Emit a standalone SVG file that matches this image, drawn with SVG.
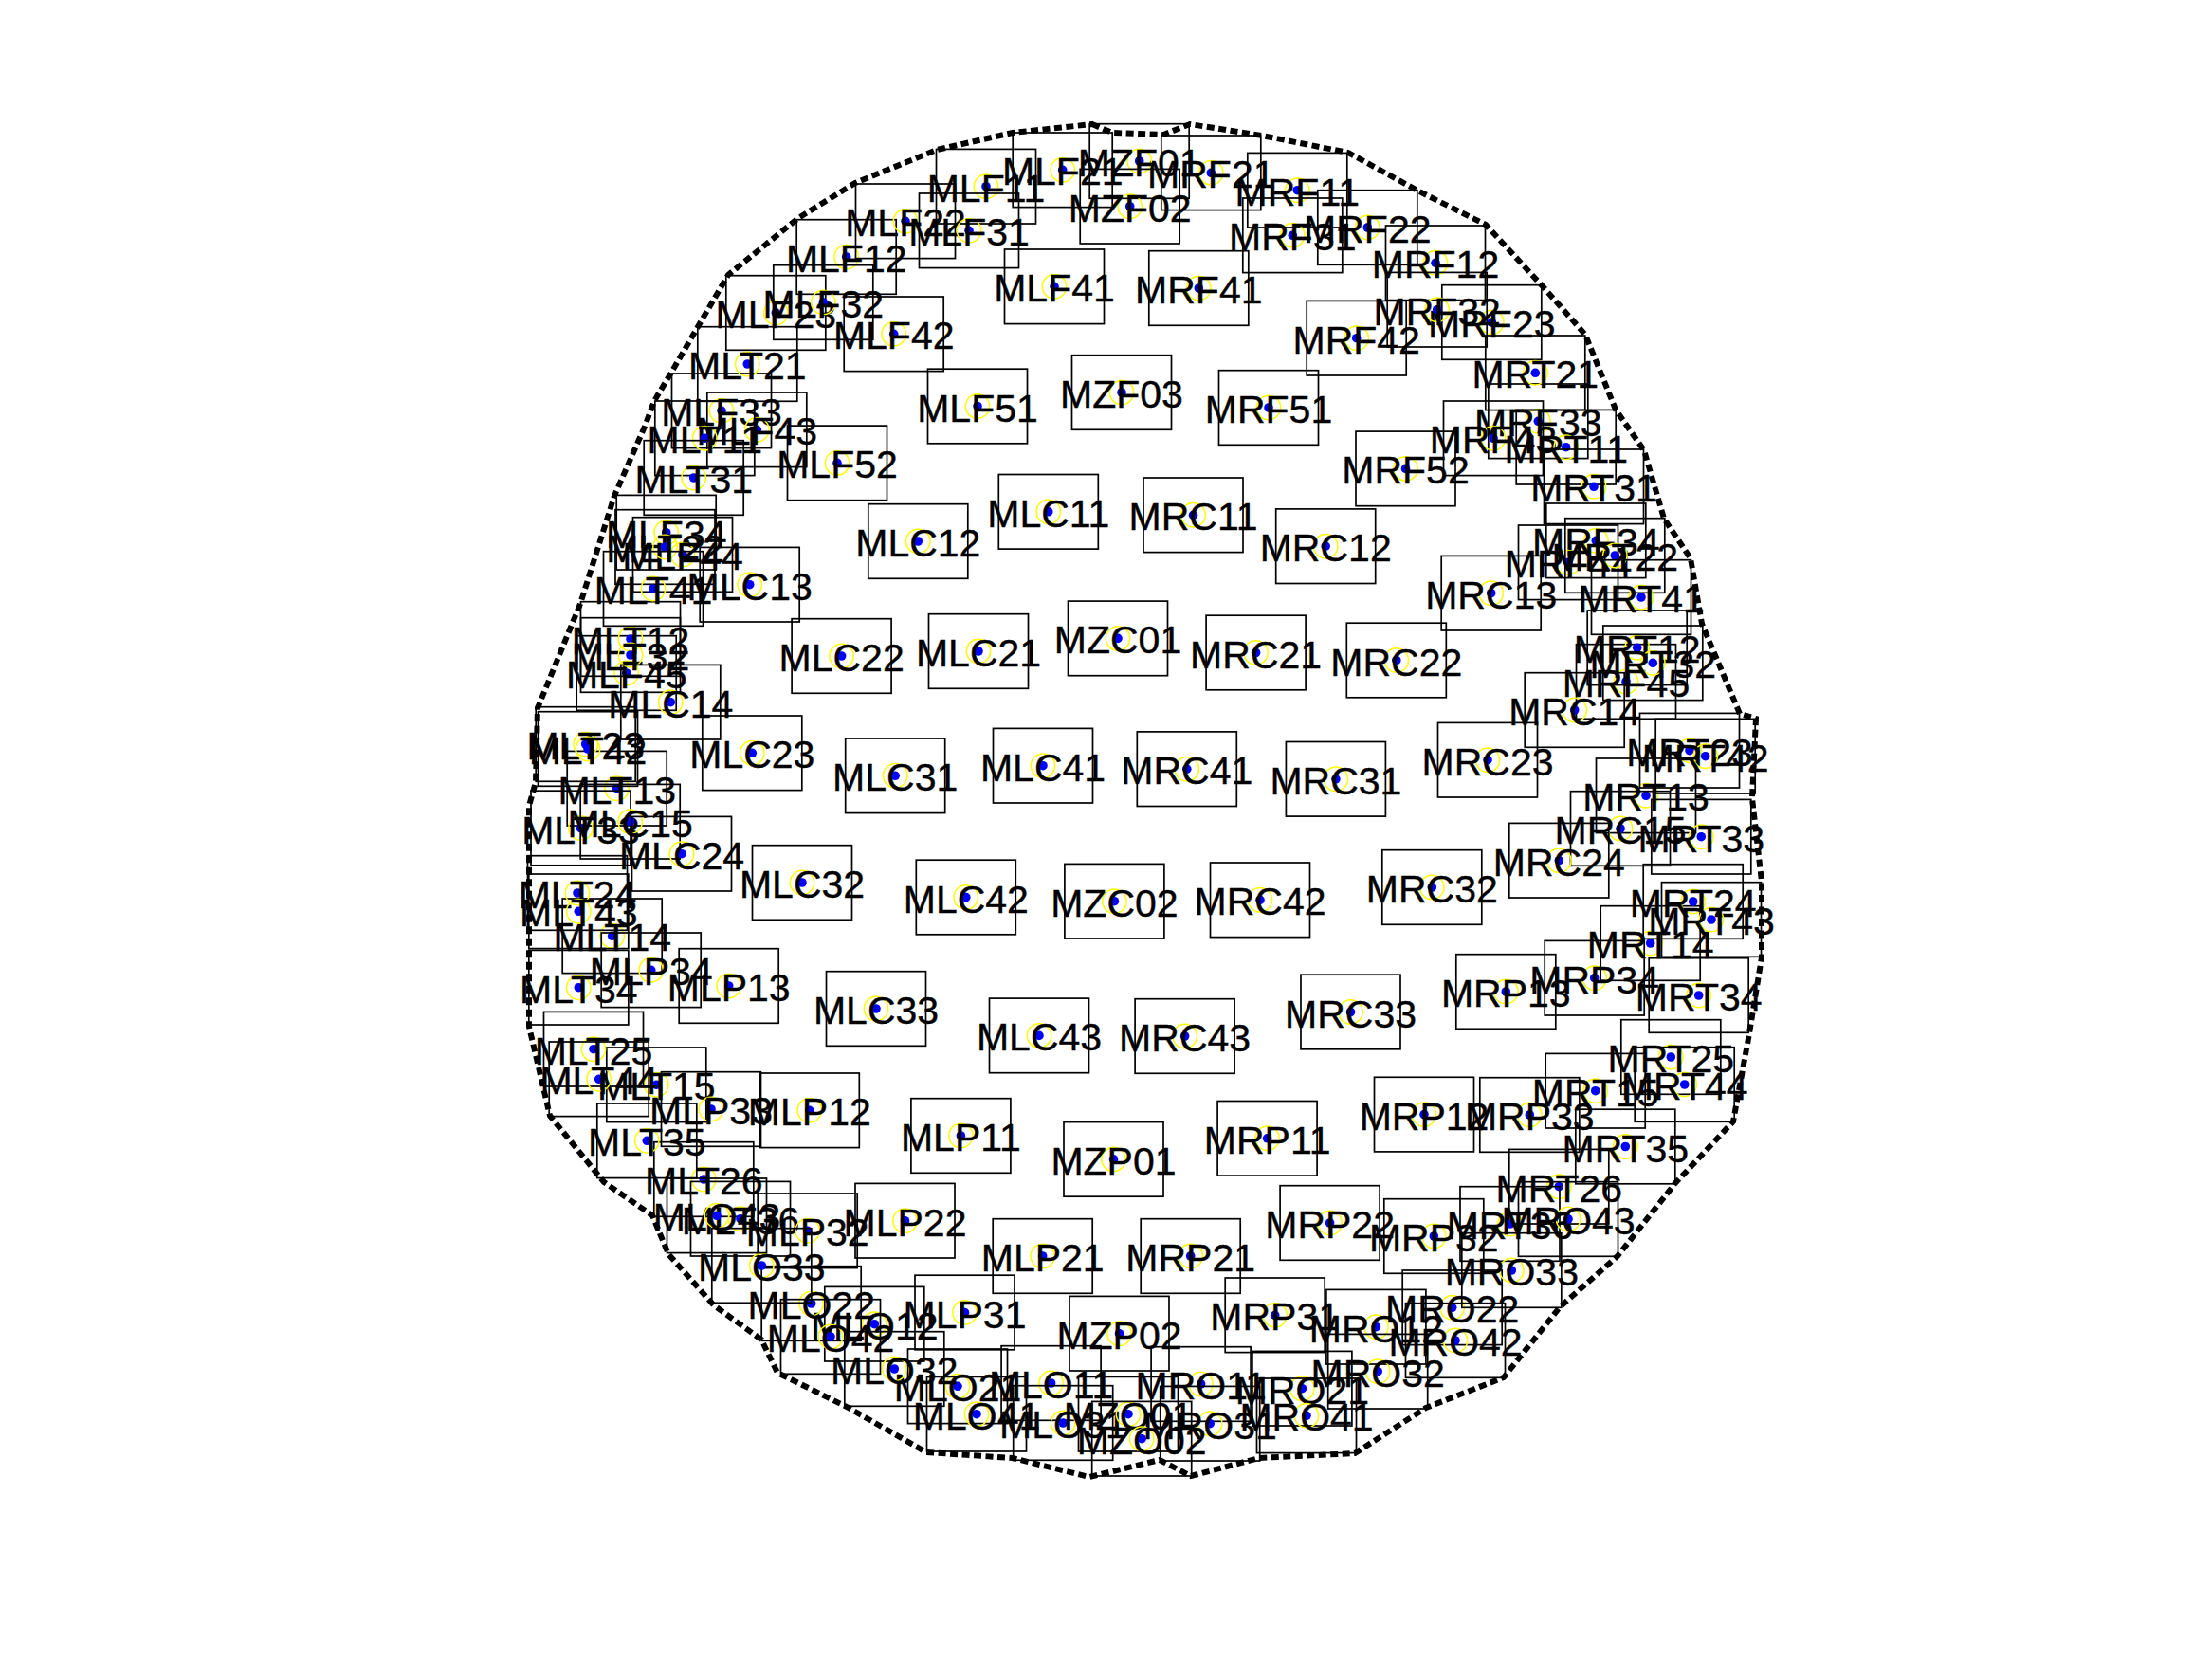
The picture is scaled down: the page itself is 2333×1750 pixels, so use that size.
<svg xmlns="http://www.w3.org/2000/svg" width="2333" height="1750" viewBox="0 0 2333 1750">
<style>
rect.bg{fill:#fff}
#outline polygon{fill:none;stroke:#000;stroke-width:6;stroke-dasharray:8 4.5}
.b{fill:none;stroke:#000;stroke-width:1.7}
.y{fill:none;stroke:#ff0;stroke-width:1.5}
.d{fill:#00f}
text{font-family:"Liberation Sans",Arial,sans-serif;font-size:41px;text-anchor:middle;fill:#000;stroke:#000;stroke-width:.4}
</style>
<defs>
<g id="s"><rect class="b" x="-52.5" y="-39.3" width="105" height="78.6"/><circle class="y" r="12.7"/><circle class="d" r="4.8"/></g>
</defs>
<rect class="bg" width="2333" height="1750"/>
<g id="outline"><polygon points="1152,131 1173,140 1227,142 1255,131 1331,143 1422,161 1497,202 1567,237 1627,302 1672,353 1704,432 1734,475 1755,547 1783,589 1795,658 1835,753 1852,758 1848,842 1858,930 1858,1010 1845,1090 1828,1183 1767,1248 1706,1325 1645,1379 1586,1453 1504,1485 1429,1533 1328,1538 1256,1557 1223,1540 1149,1558 1068,1538 977,1532 895,1485 820,1448 803,1413 753,1377 705,1323 688,1282 637,1247 580,1177 558,1083 558,850 565,825 567,747 612,637 648,523 680,450 690,423 708,393 737,343 768,290 842,230 902,193 988,158 1068,140"/></g>
<g id="MLF11" transform="translate(1040 196.7)"><use href="#s"/><text y="16">MLF11</text></g>
<g id="MLF12" transform="translate(892.7 271)"><use href="#s"/><text y="16">MLF12</text></g>
<g id="MLF21" transform="translate(1120.7 179.3)"><use href="#s"/><text y="16">MLF21</text></g>
<g id="MLF22" transform="translate(955 233.3)"><use href="#s"/><text y="16">MLF22</text></g>
<g id="MLF23" transform="translate(818.3 330)"><use href="#s"/><text y="16">MLF23</text></g>
<g id="MLF31" transform="translate(1022 243.3)"><use href="#s"/><text y="16">MLF31</text></g>
<g id="MLF32" transform="translate(868.3 319)"><use href="#s"/><text y="16">MLF32</text></g>
<g id="MLF33" transform="translate(761 433.3)"><use href="#s"/><text y="16">MLF33</text></g>
<g id="MLF34" transform="translate(702.7 561.7)"><use href="#s"/><text y="16">MLF34</text></g>
<g id="MLF41" transform="translate(1112 302.3)"><use href="#s"/><text y="16">MLF41</text></g>
<g id="MLF42" transform="translate(942.7 352.3)"><use href="#s"/><text y="16">MLF42</text></g>
<g id="MLF43" transform="translate(798.3 453.3)"><use href="#s"/><text y="16">MLF43</text></g>
<g id="MLF44" transform="translate(720 585)"><use href="#s"/><text y="16">MLF44</text></g>
<g id="MLF45" transform="translate(660.7 710)"><use href="#s"/><text y="16">MLF45</text></g>
<g id="MLF51" transform="translate(1031 428.5)"><use href="#s"/><text y="16">MLF51</text></g>
<g id="MLF52" transform="translate(883 488.4)"><use href="#s"/><text y="16">MLF52</text></g>
<g id="MLT11" transform="translate(743.3 462.3)"><use href="#s"/><text y="16">MLT11</text></g>
<g id="MLT12" transform="translate(665 674)"><use href="#s"/><text y="16">MLT12</text></g>
<g id="MLT13" transform="translate(650.7 831.7)"><use href="#s"/><text y="16">MLT13</text></g>
<g id="MLT14" transform="translate(645.7 987.3)"><use href="#s"/><text y="16">MLT14</text></g>
<g id="MLT15" transform="translate(692.3 1144.3)"><use href="#s"/><text y="16">MLT15</text></g>
<g id="MLT21" transform="translate(788.3 384)"><use href="#s"/><text y="16">MLT21</text></g>
<g id="MLT22" transform="translate(701.5 577)"><use href="#s"/><text y="16">MLT22</text></g>
<g id="MLT23" transform="translate(617.7 785)"><use href="#s"/><text y="16">MLT23</text></g>
<g id="MLT24" transform="translate(609 942)"><use href="#s"/><text y="16">MLT24</text></g>
<g id="MLT25" transform="translate(626 1106.7)"><use href="#s"/><text y="16">MLT25</text></g>
<g id="MLT26" transform="translate(742.3 1244)"><use href="#s"/><text y="16">MLT26</text></g>
<g id="MLT31" transform="translate(731.7 504)"><use href="#s"/><text y="16">MLT31</text></g>
<g id="MLT32" transform="translate(665 691)"><use href="#s"/><text y="16">MLT32</text></g>
<g id="MLT33" transform="translate(612.5 873.5)"><use href="#s"/><text y="16">MLT33</text></g>
<g id="MLT34" transform="translate(610.3 1041.7)"><use href="#s"/><text y="16">MLT34</text></g>
<g id="MLT35" transform="translate(682.3 1203.3)"><use href="#s"/><text y="16">MLT35</text></g>
<g id="MLT36" transform="translate(781 1285.7)"><use href="#s"/><text y="16">MLT36</text></g>
<g id="MLT41" transform="translate(689 621)"><use href="#s"/><text y="16">MLT41</text></g>
<g id="MLT42" transform="translate(620 790)"><use href="#s"/><text y="16">MLT42</text></g>
<g id="MLT43" transform="translate(610.3 961.3)"><use href="#s"/><text y="16">MLT43</text></g>
<g id="MLT44" transform="translate(631.7 1138.3)"><use href="#s"/><text y="16">MLT44</text></g>
<g id="MLC11" transform="translate(1105.8 539.8)"><use href="#s"/><text y="16">MLC11</text></g>
<g id="MLC12" transform="translate(968.3 571)"><use href="#s"/><text y="16">MLC12</text></g>
<g id="MLC13" transform="translate(790.7 616.7)"><use href="#s"/><text y="16">MLC13</text></g>
<g id="MLC14" transform="translate(707.3 740.7)"><use href="#s"/><text y="16">MLC14</text></g>
<g id="MLC15" transform="translate(664.7 866.7)"><use href="#s"/><text y="16">MLC15</text></g>
<g id="MLC21" transform="translate(1032 687)"><use href="#s"/><text y="16">MLC21</text></g>
<g id="MLC22" transform="translate(887.6 692)"><use href="#s"/><text y="16">MLC22</text></g>
<g id="MLC23" transform="translate(793.3 794.3)"><use href="#s"/><text y="16">MLC23</text></g>
<g id="MLC24" transform="translate(719 900.7)"><use href="#s"/><text y="16">MLC24</text></g>
<g id="MLC31" transform="translate(944.2 818.3)"><use href="#s"/><text y="16">MLC31</text></g>
<g id="MLC32" transform="translate(846 931)"><use href="#s"/><text y="16">MLC32</text></g>
<g id="MLC33" transform="translate(924 1064)"><use href="#s"/><text y="16">MLC33</text></g>
<g id="MLC41" transform="translate(1100 807.7)"><use href="#s"/><text y="16">MLC41</text></g>
<g id="MLC42" transform="translate(1018.8 946.5)"><use href="#s"/><text y="16">MLC42</text></g>
<g id="MLC43" transform="translate(1096 1092.4)"><use href="#s"/><text y="16">MLC43</text></g>
<g id="MLP11" transform="translate(1013.4 1198)"><use href="#s"/><text y="16">MLP11</text></g>
<g id="MLP12" transform="translate(853.8 1171.3)"><use href="#s"/><text y="16">MLP12</text></g>
<g id="MLP13" transform="translate(768.7 1040)"><use href="#s"/><text y="16">MLP13</text></g>
<g id="MLP21" transform="translate(1099.7 1325)"><use href="#s"/><text y="16">MLP21</text></g>
<g id="MLP22" transform="translate(954.5 1287.7)"><use href="#s"/><text y="16">MLP22</text></g>
<g id="MLP31" transform="translate(1017.5 1384.5)"><use href="#s"/><text y="16">MLP31</text></g>
<g id="MLP32" transform="translate(851.7 1298.3)"><use href="#s"/><text y="16">MLP32</text></g>
<g id="MLP33" transform="translate(750 1170)"><use href="#s"/><text y="16">MLP33</text></g>
<g id="MLP34" transform="translate(686.7 1023.3)"><use href="#s"/><text y="16">MLP34</text></g>
<g id="MLO11" transform="translate(1108.6 1459)"><use href="#s"/><text y="16">MLO11</text></g>
<g id="MLO12" transform="translate(922.3 1396.7)"><use href="#s"/><text y="16">MLO12</text></g>
<g id="MLO21" transform="translate(1010 1462.3)"><use href="#s"/><text y="16">MLO21</text></g>
<g id="MLO22" transform="translate(855.7 1375)"><use href="#s"/><text y="16">MLO22</text></g>
<g id="MLO31" transform="translate(1121.2 1501)"><use href="#s"/><text y="16">MLO31</text></g>
<g id="MLO32" transform="translate(943.3 1444)"><use href="#s"/><text y="16">MLO32</text></g>
<g id="MLO33" transform="translate(803.3 1335)"><use href="#s"/><text y="16">MLO33</text></g>
<g id="MLO41" transform="translate(1030 1491.7)"><use href="#s"/><text y="16">MLO41</text></g>
<g id="MLO42" transform="translate(876 1410)"><use href="#s"/><text y="16">MLO42</text></g>
<g id="MLO43" transform="translate(756 1282.3)"><use href="#s"/><text y="16">MLO43</text></g>
<g id="MRF11" transform="translate(1368.3 200.7)"><use href="#s"/><text y="16">MRF11</text></g>
<g id="MRF12" transform="translate(1514 277.3)"><use href="#s"/><text y="16">MRF12</text></g>
<g id="MRF21" transform="translate(1277.3 182.3)"><use href="#s"/><text y="16">MRF21</text></g>
<g id="MRF22" transform="translate(1442.3 240)"><use href="#s"/><text y="16">MRF22</text></g>
<g id="MRF23" transform="translate(1573.3 340)"><use href="#s"/><text y="16">MRF23</text></g>
<g id="MRF31" transform="translate(1363.3 248.3)"><use href="#s"/><text y="16">MRF31</text></g>
<g id="MRF32" transform="translate(1515.7 326.7)"><use href="#s"/><text y="16">MRF32</text></g>
<g id="MRF33" transform="translate(1622.3 444.3)"><use href="#s"/><text y="16">MRF33</text></g>
<g id="MRF34" transform="translate(1683.3 570.3)"><use href="#s"/><text y="16">MRF34</text></g>
<g id="MRF41" transform="translate(1264.3 304)"><use href="#s"/><text y="16">MRF41</text></g>
<g id="MRF42" transform="translate(1430.7 356.7)"><use href="#s"/><text y="16">MRF42</text></g>
<g id="MRF43" transform="translate(1575 462.3)"><use href="#s"/><text y="16">MRF43</text></g>
<g id="MRF44" transform="translate(1654 593.3)"><use href="#s"/><text y="16">MRF44</text></g>
<g id="MRF45" transform="translate(1715 719)"><use href="#s"/><text y="16">MRF45</text></g>
<g id="MRF51" transform="translate(1338 430)"><use href="#s"/><text y="16">MRF51</text></g>
<g id="MRF52" transform="translate(1482.5 494.4)"><use href="#s"/><text y="16">MRF52</text></g>
<g id="MRT11" transform="translate(1651.7 471.7)"><use href="#s"/><text y="16">MRT11</text></g>
<g id="MRT12" transform="translate(1726.7 683.3)"><use href="#s"/><text y="16">MRT12</text></g>
<g id="MRT13" transform="translate(1736 839.3)"><use href="#s"/><text y="16">MRT13</text></g>
<g id="MRT14" transform="translate(1740.7 995)"><use href="#s"/><text y="16">MRT14</text></g>
<g id="MRT15" transform="translate(1682.7 1150.7)"><use href="#s"/><text y="16">MRT15</text></g>
<g id="MRT21" transform="translate(1619.3 393.3)"><use href="#s"/><text y="16">MRT21</text></g>
<g id="MRT22" transform="translate(1703.3 586)"><use href="#s"/><text y="16">MRT22</text></g>
<g id="MRT23" transform="translate(1782 791.7)"><use href="#s"/><text y="16">MRT23</text></g>
<g id="MRT24" transform="translate(1785.7 951)"><use href="#s"/><text y="16">MRT24</text></g>
<g id="MRT25" transform="translate(1762.3 1115)"><use href="#s"/><text y="16">MRT25</text></g>
<g id="MRT26" transform="translate(1644.3 1251.7)"><use href="#s"/><text y="16">MRT26</text></g>
<g id="MRT31" transform="translate(1681 513.3)"><use href="#s"/><text y="16">MRT31</text></g>
<g id="MRT32" transform="translate(1743.3 699.3)"><use href="#s"/><text y="16">MRT32</text></g>
<g id="MRT33" transform="translate(1794.3 882.7)"><use href="#s"/><text y="16">MRT33</text></g>
<g id="MRT34" transform="translate(1791.7 1050)"><use href="#s"/><text y="16">MRT34</text></g>
<g id="MRT35" transform="translate(1714.3 1209.5)"><use href="#s"/><text y="16">MRT35</text></g>
<g id="MRT36" transform="translate(1592.5 1291)"><use href="#s"/><text y="16">MRT36</text></g>
<g id="MRT41" transform="translate(1731 630)"><use href="#s"/><text y="16">MRT41</text></g>
<g id="MRT42" transform="translate(1798.7 797.7)"><use href="#s"/><text y="16">MRT42</text></g>
<g id="MRT43" transform="translate(1805 970)"><use href="#s"/><text y="16">MRT43</text></g>
<g id="MRT44" transform="translate(1776.7 1144)"><use href="#s"/><text y="16">MRT44</text></g>
<g id="MRC11" transform="translate(1258.5 543.3)"><use href="#s"/><text y="16">MRC11</text></g>
<g id="MRC12" transform="translate(1398.2 576.2)"><use href="#s"/><text y="16">MRC12</text></g>
<g id="MRC13" transform="translate(1572.7 625.7)"><use href="#s"/><text y="16">MRC13</text></g>
<g id="MRC14" transform="translate(1660.7 749)"><use href="#s"/><text y="16">MRC14</text></g>
<g id="MRC15" transform="translate(1709 874)"><use href="#s"/><text y="16">MRC15</text></g>
<g id="MRC21" transform="translate(1324.6 688.5)"><use href="#s"/><text y="16">MRC21</text></g>
<g id="MRC22" transform="translate(1472.8 696.5)"><use href="#s"/><text y="16">MRC22</text></g>
<g id="MRC23" transform="translate(1569 801.7)"><use href="#s"/><text y="16">MRC23</text></g>
<g id="MRC24" transform="translate(1644.3 907.7)"><use href="#s"/><text y="16">MRC24</text></g>
<g id="MRC31" transform="translate(1408.9 821.8)"><use href="#s"/><text y="16">MRC31</text></g>
<g id="MRC32" transform="translate(1510.3 936)"><use href="#s"/><text y="16">MRC32</text></g>
<g id="MRC33" transform="translate(1424.5 1067.5)"><use href="#s"/><text y="16">MRC33</text></g>
<g id="MRC41" transform="translate(1251.8 811.2)"><use href="#s"/><text y="16">MRC41</text></g>
<g id="MRC42" transform="translate(1329 949.3)"><use href="#s"/><text y="16">MRC42</text></g>
<g id="MRC43" transform="translate(1249.6 1093)"><use href="#s"/><text y="16">MRC43</text></g>
<g id="MRP11" transform="translate(1336.6 1200.8)"><use href="#s"/><text y="16">MRP11</text></g>
<g id="MRP12" transform="translate(1502 1175.6)"><use href="#s"/><text y="16">MRP12</text></g>
<g id="MRP13" transform="translate(1588.3 1046)"><use href="#s"/><text y="16">MRP13</text></g>
<g id="MRP21" transform="translate(1255.7 1325)"><use href="#s"/><text y="16">MRP21</text></g>
<g id="MRP22" transform="translate(1402.6 1290)"><use href="#s"/><text y="16">MRP22</text></g>
<g id="MRP31" transform="translate(1344.7 1387.3)"><use href="#s"/><text y="16">MRP31</text></g>
<g id="MRP32" transform="translate(1512.3 1304)"><use href="#s"/><text y="16">MRP32</text></g>
<g id="MRP33" transform="translate(1613.3 1176)"><use href="#s"/><text y="16">MRP33</text></g>
<g id="MRP34" transform="translate(1681.7 1031.7)"><use href="#s"/><text y="16">MRP34</text></g>
<g id="MRO11" transform="translate(1266.6 1460)"><use href="#s"/><text y="16">MRO11</text></g>
<g id="MRO12" transform="translate(1451.4 1399.7)"><use href="#s"/><text y="16">MRO12</text></g>
<g id="MRO21" transform="translate(1373.4 1464.7)"><use href="#s"/><text y="16">MRO21</text></g>
<g id="MRO22" transform="translate(1531.7 1379.3)"><use href="#s"/><text y="16">MRO22</text></g>
<g id="MRO31" transform="translate(1276.2 1501.7)"><use href="#s"/><text y="16">MRO31</text></g>
<g id="MRO32" transform="translate(1453.2 1446.7)"><use href="#s"/><text y="16">MRO32</text></g>
<g id="MRO33" transform="translate(1594.3 1340)"><use href="#s"/><text y="16">MRO33</text></g>
<g id="MRO41" transform="translate(1378 1493.3)"><use href="#s"/><text y="16">MRO41</text></g>
<g id="MRO42" transform="translate(1535 1414)"><use href="#s"/><text y="16">MRO42</text></g>
<g id="MRO43" transform="translate(1654 1286)"><use href="#s"/><text y="16">MRO43</text></g>
<g id="MZF01" transform="translate(1201.7 170)"><use href="#s"/><text y="16">MZF01</text></g>
<g id="MZF02" transform="translate(1191.7 217.7)"><use href="#s"/><text y="16">MZF02</text></g>
<g id="MZF03" transform="translate(1183 414)"><use href="#s"/><text y="16">MZF03</text></g>
<g id="MZC01" transform="translate(1179 673.4)"><use href="#s"/><text y="16">MZC01</text></g>
<g id="MZC02" transform="translate(1175.4 950.7)"><use href="#s"/><text y="16">MZC02</text></g>
<g id="MZP01" transform="translate(1174.5 1222.9)"><use href="#s"/><text y="16">MZP01</text></g>
<g id="MZP02" transform="translate(1180.5 1406.7)"><use href="#s"/><text y="16">MZP02</text></g>
<g id="MZO01" transform="translate(1190 1491.7)"><use href="#s"/><text y="16">MZO01</text></g>
<g id="MZO02" transform="translate(1204.2 1517.7)"><use href="#s"/><text y="16">MZO02</text></g>
</svg>
